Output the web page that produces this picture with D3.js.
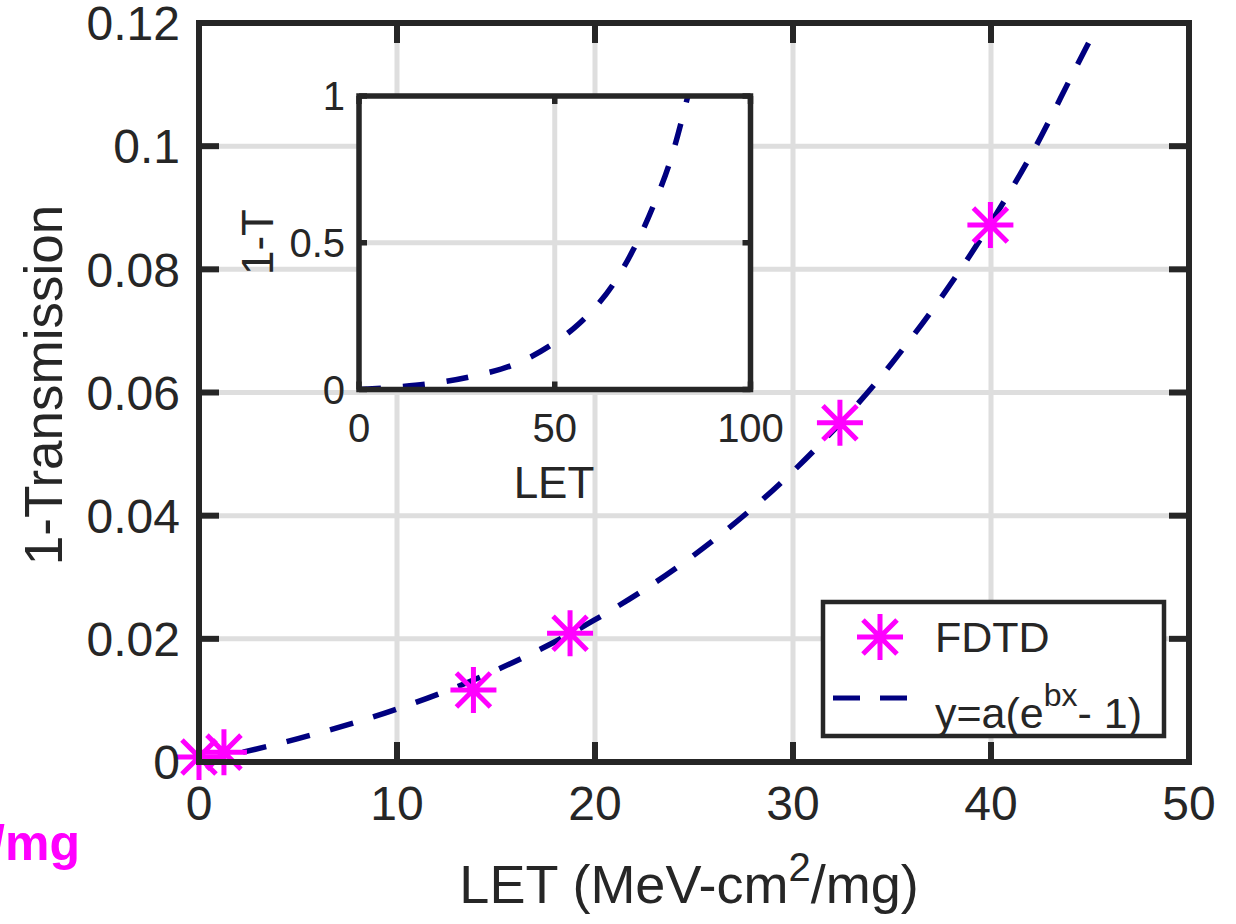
<!DOCTYPE html>
<html>
<head>
<meta charset="utf-8">
<script src="https://cdn.jsdelivr.net/npm/d3@7"></script>
<style>
  body { margin: 0; background: #fff; }
  text { font-family: "Liberation Sans", Arial, Helvetica, sans-serif; fill: #262626; }
</style>
</head>
<body>
<div id="chart"></div>
<script>
// FDTD points
var letFDTD = [0, 1.26, 13.86, 18.74, 32.37, 39.97];
var oneMinusT = [0.0008, 0.0016, 0.0117, 0.0209, 0.0551, 0.0872];

// fitted curve y=a(e^bx - 1)
var fitLET = [0, 5, 10, 15, 20, 25, 30, 35, 40, 42.1, 44.2, 45.6];
var fitY = [0, 0.0038, 0.0086, 0.0149, 0.0231, 0.0336, 0.0472, 0.0648, 0.0876, 0.0990, 0.1122, 0.1210];

// inset curve (LET 0..100)
var insetLET = [0, 10, 20, 30, 40, 50, 55, 60, 65, 70, 75, 80, 84];
var insetY = [0, 0.009, 0.023, 0.048, 0.087, 0.16, 0.21, 0.275, 0.36, 0.475, 0.62, 0.80, 1.0];

var xTicks = [0, 10, 20, 30, 40, 50];
var yTicks = [0, 0.02, 0.04, 0.06, 0.08, 0.1, 0.12];
var yTickLabels = ["0", "0.02", "0.04", "0.06", "0.08", "0.1", "0.12"];
var insetXTicks = [0, 50, 100];
var insetYTicks = [0, 0.5, 1];
var insetYTickLabels = ["0", "0.5", "1"];

var W = 1236, H = 924;
var axisCol = "#262626", gridCol = "#dedede", fitCol = "#000080", mkCol = "#ff00ff";

var svg = d3.select("#chart").append("svg")
    .attr("width", W)
    .attr("height", H);

// main axes
var x = d3.scaleLinear().domain([0, 50]).range([199, 1189]);
var y = d3.scaleLinear().domain([0, 0.12]).range([762, 23]);

svg.append("defs").append("clipPath").attr("id", "clipMain")
    .append("rect").attr("x", 199).attr("y", 23).attr("width", 990).attr("height", 739);
svg.select("defs").append("clipPath").attr("id", "clipInset")
    .append("rect").attr("x", 359).attr("y", 96).attr("width", 391.5).attr("height", 293.5);

//grid
svg.append("g").selectAll("line").data(xTicks.slice(1, -1)).enter().append("line")
    .attr("x1", function (d) { return x(d); }).attr("x2", function (d) { return x(d); })
    .attr("y1", y(0)).attr("y2", y(0.12))
    .attr("stroke", gridCol).attr("stroke-width", 5);
svg.append("g").selectAll("line").data(yTicks.slice(1, -1)).enter().append("line")
    .attr("y1", function (d) { return y(d); }).attr("y2", function (d) { return y(d); })
    .attr("x1", x(0)).attr("x2", x(50))
    .attr("stroke", gridCol).attr("stroke-width", 5);

// fit line
var fitLine = d3.line()
    .x(function (d, i) { return x(fitLET[i]); })
    .y(function (d, i) { return y(fitY[i]); })
    .curve(d3.curveMonotoneX);
svg.append("path")
    .datum(fitLET)
    .attr("d", fitLine)
    .attr("clip-path", "url(#clipMain)")
    .attr("fill", "none")
    .attr("stroke", fitCol)
    .attr("stroke-width", 5.5)
    .attr("stroke-dasharray", "24,21");

// asterisk marker like matlab '*'
function star(r) {
    var d = r * 0.74;
    return "M" + (-r) + ",0L" + r + ",0M0," + (-r) + "L0," + r +
        "M" + (-d) + "," + (-d) + "L" + d + "," + d + "M" + (-d) + "," + d + "L" + d + "," + (-d);
}
svg.append("g").selectAll("path").data(letFDTD).enter().append("path")
    .attr("d", star(23))
    .attr("transform", function (d, i) { return "translate(" + x(d) + "," + y(oneMinusT[i]) + ")"; })
    .attr("fill", "none")
    .attr("stroke", mkCol)
    .attr("stroke-width", 5);

// box + ticks
svg.append("rect")
    .attr("x", 199).attr("y", 23).attr("width", 990).attr("height", 739)
    .attr("fill", "none").attr("stroke", axisCol).attr("stroke-width", 6);
var tk = svg.append("g").attr("stroke", axisCol).attr("stroke-width", 6);
xTicks.forEach(function (d) {
    tk.append("line").attr("x1", x(d)).attr("x2", x(d)).attr("y1", y(0)).attr("y2", y(0) - 20);
    tk.append("line").attr("x1", x(d)).attr("x2", x(d)).attr("y1", y(0.12)).attr("y2", y(0.12) + 20);
});
yTicks.forEach(function (d) {
    tk.append("line").attr("y1", y(d)).attr("y2", y(d)).attr("x1", x(0)).attr("x2", x(0) + 20);
    tk.append("line").attr("y1", y(d)).attr("y2", y(d)).attr("x1", x(50)).attr("x2", x(50) - 20);
});

svg.append("g").selectAll("text").data(xTicks).enter().append("text")
    .attr("x", function (d) { return x(d); })
    .attr("y", 820)
    .attr("text-anchor", "middle")
    .style("font-size", "48px")
    .text(function (d) { return d; });
svg.append("g").selectAll("text").data(yTicks).enter().append("text")
    .attr("x", 180)
    .attr("y", function (d) { return y(d); })
    .attr("dy", "0.36em")
    .attr("text-anchor", "end")
    .style("font-size", "48px")
    .text(function (d, i) { return yTickLabels[i]; });

// axis labels
var xl = svg.append("text")
    .attr("x", 689).attr("y", 903)
    .attr("text-anchor", "middle")
    .style("font-size", "54px");
xl.append("tspan").text("LET (MeV-cm");
xl.append("tspan").attr("dy", -22).style("font-size", "40px").text("2");
xl.append("tspan").attr("dy", 22).text("/mg)");

svg.append("text")
    .attr("transform", "translate(62,385) rotate(-90)")
    .attr("text-anchor", "middle")
    .style("font-size", "53px")
    .text("1-Transmission");

// cut off magenta label at the left edge
svg.append("text")
    .attr("x", 80).attr("y", 860)
    .attr("text-anchor", "end")
    .style("font-size", "50px")
    .style("font-weight", "bold")
    .style("fill", mkCol)
    .text("MeV-cm2/mg");

// legend
var lg = svg.append("g");
lg.append("rect")
    .attr("x", 823).attr("y", 602).attr("width", 341).attr("height", 134)
    .attr("fill", "#fff").attr("stroke", axisCol).attr("stroke-width", 4.5);
lg.append("path")
    .attr("d", star(23))
    .attr("transform", "translate(880,637)")
    .attr("fill", "none").attr("stroke", mkCol).attr("stroke-width", 5);
lg.append("line")
    .attr("x1", 833).attr("x2", 907).attr("y1", 698).attr("y2", 698)
    .attr("stroke", fitCol).attr("stroke-width", 5).attr("stroke-dasharray", "27,20");
lg.append("text").attr("x", 935).attr("y", 652).style("font-size", "43px").text("FDTD");
var lt = lg.append("text").attr("x", 935).attr("y", 728).style("font-size", "43px");
lt.append("tspan").text("y=a(e");
lt.append("tspan").attr("dy", -22).style("font-size", "32px").text("bx");
lt.append("tspan").attr("dy", 22).text("- 1)");

// inset
var ix = d3.scaleLinear().domain([0, 100]).range([359, 750.5]);
var iy = d3.scaleLinear().domain([0, 1]).range([389.5, 96]);

var ins = svg.append("g");
ins.append("rect")
    .attr("x", 359).attr("y", 96).attr("width", 391.5).attr("height", 293.5)
    .attr("fill", "#fff");
ins.append("line")
    .attr("x1", ix(50)).attr("x2", ix(50)).attr("y1", iy(0)).attr("y2", iy(1))
    .attr("stroke", gridCol).attr("stroke-width", 5);
ins.append("line")
    .attr("x1", ix(0)).attr("x2", ix(100)).attr("y1", iy(0.5)).attr("y2", iy(0.5))
    .attr("stroke", gridCol).attr("stroke-width", 5);

var insetLine = d3.line()
    .x(function (d, i) { return ix(insetLET[i]); })
    .y(function (d, i) { return iy(insetY[i]); })
    .curve(d3.curveMonotoneX);
ins.append("path")
    .datum(insetLET)
    .attr("d", insetLine)
    .attr("clip-path", "url(#clipInset)")
    .attr("fill", "none")
    .attr("stroke", fitCol)
    .attr("stroke-width", 5.5)
    .attr("stroke-dasharray", "22,22");

ins.append("rect")
    .attr("x", 359).attr("y", 96).attr("width", 391.5).attr("height", 293.5)
    .attr("fill", "none").attr("stroke", axisCol).attr("stroke-width", 5.5);
var itk = ins.append("g").attr("stroke", axisCol).attr("stroke-width", 5.5);
insetXTicks.forEach(function (d) {
    itk.append("line").attr("x1", ix(d)).attr("x2", ix(d)).attr("y1", iy(0)).attr("y2", iy(0) - 8);
    itk.append("line").attr("x1", ix(d)).attr("x2", ix(d)).attr("y1", iy(1)).attr("y2", iy(1) + 8);
});
insetYTicks.forEach(function (d) {
    itk.append("line").attr("y1", iy(d)).attr("y2", iy(d)).attr("x1", ix(0)).attr("x2", ix(0) + 8);
    itk.append("line").attr("y1", iy(d)).attr("y2", iy(d)).attr("x1", ix(100)).attr("x2", ix(100) - 8);
});

ins.append("g").selectAll("text").data(insetXTicks).enter().append("text")
    .attr("x", function (d) { return ix(d); })
    .attr("y", 442)
    .attr("text-anchor", "middle")
    .style("font-size", "40px")
    .text(function (d) { return d; });
ins.append("g").selectAll("text").data(insetYTicks).enter().append("text")
    .attr("x", 345)
    .attr("y", function (d) { return iy(d); })
    .attr("dy", "0.36em")
    .attr("text-anchor", "end")
    .style("font-size", "40px")
    .text(function (d, i) { return insetYTickLabels[i]; });

ins.append("text")
    .attr("x", 554).attr("y", 498)
    .attr("text-anchor", "middle")
    .style("font-size", "44px")
    .text("LET");
ins.append("text")
    .attr("transform", "translate(273,242) rotate(-90)")
    .attr("text-anchor", "middle")
    .style("font-size", "44px")
    .text("1-T");
</script>
</body>
</html>
